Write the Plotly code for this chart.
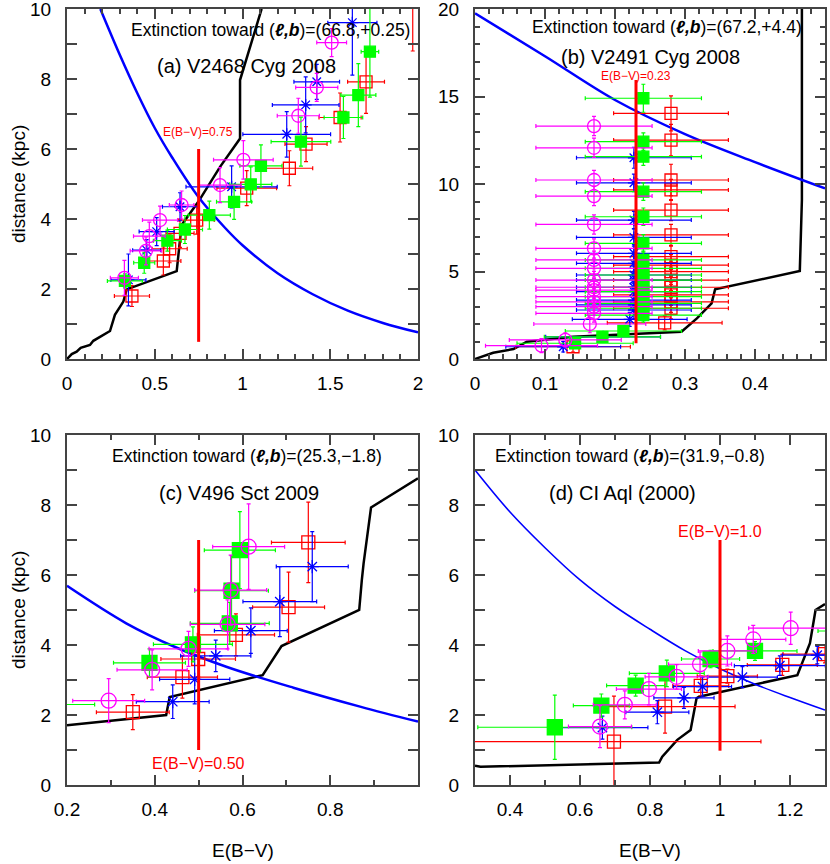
import plotly.graph_objects as go

# ---------------- panel (a) V2468 Cyg 2008 ----------------
a_ext_x = [0, 0.027, 0.055, 0.078, 0.131, 0.15, 0.245, 0.273, 0.321, 0.34, 0.625, 0.653, 0.748, 0.872, 0.986, 0.986, 1.109]
a_ext_y = [0, 0.14, 0.21, 0.32, 0.4, 0.52, 0.8, 1.26, 1.64, 1.99, 2.51, 3.83, 4.49, 5.49, 6.3, 7.97, 10.0]
a_dm_x = [0.19, 0.3, 0.4, 0.5, 0.6, 0.75, 0.9, 1.0, 1.2, 1.4, 1.6, 1.8, 2.0]
a_dm_y = [10.0, 8.7, 7.6, 6.6, 5.75, 4.62, 3.75, 3.25, 2.45, 1.85, 1.38, 1.03, 0.76]
a_ebv, a_ebv_y = 0.75, [0.49, 6.0]

a_mag_x = [1.508, 1.423, 1.318, 1.005, 0.872, 0.653, 0.53, 0.469, 0.45, 0.327]
a_mag_y = [9.04, 7.76, 6.95, 5.69, 4.97, 4.4, 3.97, 3.51, 3.09, 2.32]
a_mag_ex = [0.085, 0.12, 0.12, 0.17, 0.12, 0.07, 0.1, 0.09, 0.09, 0.08]
a_mag_ey = [0.4, 0.4, 0.5, 0.55, 0.5, 0.4, 0.4, 0.4, 0.4, 0.5]

a_grn_x = [1.726, 1.66, 1.575, 1.333, 1.105, 1.047, 0.952, 0.811, 0.672, 0.572, 0.44, 0.33]
a_grn_y = [8.78, 7.54, 6.9, 6.21, 5.52, 4.99, 4.49, 4.11, 3.7, 3.38, 2.75, 2.23]
a_grn_ex = [0.05, 0.1, 0.11, 0.17, 0.12, 0.12, 0.1, 0.12, 0.1, 0.08, 0.06, 0.1]
a_grn_ey = [1.3, 0.9, 0.6, 0.7, 0.6, 0.5, 0.5, 0.4, 0.4, 0.3, 0.3, 0.2]

a_red_x = [1.97, 1.704, 1.556, 1.362, 1.267, 1.024, 0.739, 0.644, 0.585, 0.549, 0.37]
a_red_y = [10.6, 7.92, 6.9, 6.14, 5.45, 4.88, 3.97, 3.59, 3.15, 2.8, 1.8]
a_red_ex = [0.06, 0.105, 0.12, 0.12, 0.133, 0.17, 0.1, 0.08, 0.1, 0.1, 0.1]
a_red_ey = [1.8, 0.9, 0.7, 0.5, 0.5, 0.5, 0.4, 0.4, 0.4, 0.4, 0.3]

a_blu_x = [1.626, 1.423, 1.36, 1.252, 0.938, 0.644, 0.511, 0.454, 0.35]
a_blu_y = [9.61, 7.92, 7.26, 6.42, 4.92, 4.35, 3.64, 3.11, 2.26]
a_blu_ex = [0.14, 0.13, 0.19, 0.25, 0.26, 0.1, 0.1, 0.08, 0.1]
a_blu_ey = [1.5, 0.5, 0.8, 0.65, 0.6, 0.4, 0.4, 0.3, 0.74]

# ---------------- panel (b) V2491 Cyg 2008 ----------------
b_ext_x = [0, 0.026, 0.055, 0.074, 0.14, 0.221, 0.295, 0.317, 0.338, 0.343, 0.464, 0.467, 0.467]
b_ext_y = [0, 0.36, 0.57, 0.99, 1.27, 1.41, 1.56, 2.32, 3.18, 3.98, 5.03, 9.09, 20.0]
b_dm_x = [0.0, 0.1, 0.2, 0.3, 0.4, 0.5]
b_dm_y = [19.75, 17.3, 14.8, 12.85, 11.25, 9.75]
b_ebv, b_ebv_y = 0.23, [0.9, 15.94]

b_mag_x = [0.17, 0.17, 0.17, 0.17, 0.17, 0.17, 0.17, 0.17, 0.17, 0.17, 0.17, 0.17, 0.17, 0.17, 0.17, 0.164, 0.129, 0.095]
b_mag_y = [13.31, 12.07, 10.23, 9.31, 7.69, 6.32, 5.66, 5.18, 4.51, 4.1, 3.94, 3.56, 3.27, 2.99, 2.61, 2.0, 1.09, 0.76]
b_mag_ex = [0.083, 0.083, 0.083, 0.083, 0.083, 0.083, 0.083, 0.083, 0.083, 0.083, 0.083, 0.083, 0.083, 0.083, 0.083, 0.08, 0.08, 0.08]
b_mag_ey = [0.55, 0.55, 0.55, 0.55, 0.55, 0.55, 0.5, 0.5, 0.5, 0.5, 0.5, 0.5, 0.5, 0.5, 0.5, 0.5, 0.4, 0.4]

b_grn_x = [0.2405, 0.2405, 0.2405, 0.2405, 0.2405, 0.2405, 0.2405, 0.2405, 0.2405, 0.2405, 0.2405, 0.2405, 0.2405, 0.2405, 0.2405, 0.2405, 0.212, 0.182, 0.143]
b_grn_y = [14.9, 12.42, 11.56, 9.56, 8.13, 6.61, 5.66, 5.18, 4.8, 4.51, 4.1, 3.85, 3.56, 3.18, 2.9, 2.51, 1.6, 1.27, 0.9]
b_grn_ex = [0.083, 0.083, 0.083, 0.083, 0.083, 0.083, 0.083, 0.083, 0.083, 0.083, 0.083, 0.083, 0.083, 0.083, 0.083, 0.083, 0.083, 0.083, 0.083]
b_grn_ey = [0.8, 0.5, 0.5, 0.5, 0.5, 0.5, 0.5, 0.5, 0.5, 0.5, 0.5, 0.5, 0.5, 0.5, 0.5, 0.4, 0.3, 0.3, 0.3]

b_blu_x = [0.227, 0.227, 0.227, 0.227, 0.227, 0.227, 0.227, 0.227, 0.227, 0.227, 0.227, 0.227, 0.227, 0.221, 0.183, 0.126]
b_blu_y = [11.5, 10.07, 7.94, 6.95, 6.04, 5.47, 4.8, 4.51, 4.1, 3.85, 3.37, 3.09, 2.8, 2.27, 1.27, 0.7]
b_blu_ex = [0.082, 0.082, 0.082, 0.082, 0.082, 0.082, 0.082, 0.082, 0.082, 0.082, 0.082, 0.082, 0.082, 0.082, 0.082, 0.082]
b_blu_ey = [0.6, 0.5, 0.5, 0.5, 0.5, 0.5, 0.5, 0.5, 0.5, 0.5, 0.5, 0.5, 0.5, 0.4, 0.3, 0.3]

b_red_x = [0.28, 0.28, 0.28, 0.28, 0.28, 0.28, 0.28, 0.28, 0.28, 0.28, 0.28, 0.28, 0.28, 0.28, 0.271, 0.14]
b_red_y = [14.04, 12.51, 10.23, 9.66, 8.51, 7.09, 5.85, 5.37, 4.99, 4.51, 4.1, 3.66, 3.27, 2.9, 2.07, 0.7]
b_red_ex = [0.082, 0.082, 0.082, 0.082, 0.082, 0.082, 0.082, 0.082, 0.082, 0.082, 0.082, 0.082, 0.082, 0.082, 0.082, 0.082]
b_red_ey = [1.0, 0.9, 0.9, 0.6, 0.6, 0.6, 0.6, 0.6, 0.6, 0.6, 0.6, 0.6, 0.6, 0.6, 0.4, 0.3]

# ---------------- panel (c) V496 Sct 2009 ----------------
c_ext_x = [0.2, 0.426, 0.434, 0.646, 0.689, 0.866, 0.872, 0.876, 0.893, 1.0]
c_ext_y = [1.71, 2.0, 2.51, 3.14, 3.97, 5.0, 5.86, 6.33, 7.93, 8.76]
c_dm_x = [0.2, 0.335, 0.445, 0.563, 0.716, 0.868, 1.0]
c_dm_y = [5.69, 4.62, 3.95, 3.38, 2.78, 2.24, 1.81]
c_ebv, c_ebv_y = 0.5, [1.0, 7.0]

c_mag_x = [0.614, 0.573, 0.566, 0.477, 0.394, 0.295]
c_mag_y = [6.81, 5.57, 4.59, 3.89, 3.29, 2.41]
c_mag_ex = [0.082, 0.082, 0.085, 0.09, 0.08, 0.082]
c_mag_ey = [1.22, 1.0, 0.7, 0.5, 0.57, 0.63]

c_grn_x = [0.594, 0.575, 0.571, 0.487, 0.388, 0.18]
c_grn_y = [6.71, 5.55, 4.62, 4.02, 3.49, 2.3]
c_grn_ex = [0.081, 0.084, 0.09, 0.09, 0.082, 0.083]
c_grn_ey = [1.1, 1.0, 0.6, 0.5, 0.4, 0.4]

c_blu_x = [0.759, 0.685, 0.619, 0.539, 0.491, 0.441]
c_blu_y = [6.24, 5.24, 4.41, 3.69, 3.02, 2.38]
c_blu_ex = [0.082, 0.084, 0.083, 0.08, 0.08, 0.083]
c_blu_ey = [1.0, 1.0, 0.65, 0.45, 0.7, 0.48]

c_red_x = [0.75, 0.705, 0.585, 0.499, 0.463, 0.35]
c_red_y = [6.93, 5.08, 4.29, 3.6, 3.08, 2.08]
c_red_ex = [0.084, 0.082, 0.088, 0.085, 0.08, 0.083]
c_red_ey = [1.15, 1.0, 0.6, 0.5, 0.6, 0.5]

# ---------------- panel (d) CI Aql (2000) ----------------
d_ext_x = [0.3, 0.316, 0.826, 0.835, 0.878, 0.916, 0.933, 0.94, 1.221, 1.257, 1.273, 1.3]
d_ext_y = [0.55, 0.52, 0.64, 0.81, 1.29, 1.57, 2.48, 2.52, 3.14, 4.05, 5.0, 5.17]
d_dm_x = [0.3, 0.4, 0.5, 0.6, 0.7, 0.8, 0.9, 1.0, 1.1, 1.2, 1.3]
d_dm_y = [9.0, 7.8, 6.78, 5.86, 5.1, 4.45, 3.84, 3.32, 2.88, 2.5, 2.14]
d_ebv, d_ebv_y = 1.0, [0.98, 7.0]

d_mag_x = [1.202, 1.095, 1.021, 0.943, 0.876, 0.797, 0.728, 0.657]
d_mag_y = [4.48, 4.16, 3.83, 3.45, 3.09, 2.74, 2.29, 1.67]
d_mag_ex = [0.12, 0.093, 0.083, 0.09, 0.09, 0.093, 0.09, 0.09]
d_mag_ey = [0.46, 0.4, 0.43, 0.35, 0.35, 0.45, 0.4, 0.6]

d_grn_x = [1.4, 1.1, 0.973, 0.848, 0.759, 0.661, 0.528]
d_grn_y = [4.4, 3.83, 3.6, 3.19, 2.84, 2.27, 1.65]
d_grn_ex = [0.12, 0.12, 0.083, 0.107, 0.083, 0.08, 0.22]
d_grn_ey = [0.3, 0.27, 0.25, 0.38, 0.3, 0.33, 0.92]

d_blu_x = [1.278, 1.171, 1.064, 0.95, 0.897, 0.821, 0.664]
d_blu_y = [3.71, 3.41, 3.08, 2.81, 2.49, 2.08, 1.64]
d_blu_ex = [0.1, 0.13, 0.1, 0.083, 0.086, 0.09, 0.13]
d_blu_ey = [0.25, 0.28, 0.3, 0.27, 0.3, 0.33, 0.33]

d_red_x = [1.3, 1.178, 1.021, 0.945, 0.843, 0.697]
d_red_y = [3.74, 3.43, 3.11, 2.83, 2.24, 1.24]
d_red_ex = [0.12, 0.1, 0.086, 0.08, 0.2, 0.42]
d_red_ey = [0.25, 0.3, 0.2, 0.28, 0.76, 1.3]

MAG, GRN, BLU, RED = "#ff00ff", "#00ff00", "#0000ff", "#ff0000"
FONT = "Liberation Sans"

fig = go.Figure()


def curve(ax, x, y, color, width, shape="linear"):
    fig.add_trace(go.Scatter(x=x, y=y, mode="lines", xaxis="x" + ax, yaxis="y" + ax,
                             line=dict(color=color, width=width, shape=shape),
                             showlegend=False, hoverinfo="skip"))


def points(ax, x, y, ex, ey, color, symbol, size):
    fig.add_trace(go.Scatter(
        x=x, y=y, mode="markers", xaxis="x" + ax, yaxis="y" + ax, showlegend=False,
        marker=dict(symbol=symbol, size=size, color=color, line=dict(color=color, width=1.3)),
        error_x=dict(type="data", array=ex, color=color, thickness=1.2, width=2),
        error_y=dict(type="data", array=ey, color=color, thickness=1.2, width=2)))


panels = [
    ("", a_ext_x, a_ext_y, a_dm_x, a_dm_y, a_ebv, a_ebv_y, 2.5,
     (a_red_x, a_red_y, a_red_ex, a_red_ey), (a_blu_x, a_blu_y, a_blu_ex, a_blu_ey),
     (a_grn_x, a_grn_y, a_grn_ex, a_grn_ey), (a_mag_x, a_mag_y, a_mag_ex, a_mag_ey), (12, 10, 11, 13)),
    ("2", b_ext_x, b_ext_y, b_dm_x, b_dm_y, b_ebv, b_ebv_y, 2.5,
     (b_red_x, b_red_y, b_red_ex, b_red_ey), (b_blu_x, b_blu_y, b_blu_ex, b_blu_ey),
     (b_grn_x, b_grn_y, b_grn_ex, b_grn_ey), (b_mag_x, b_mag_y, b_mag_ex, b_mag_ey), (12, 10, 11, 13)),
    ("3", c_ext_x, c_ext_y, c_dm_x, c_dm_y, c_ebv, c_ebv_y, 2.5,
     (c_red_x, c_red_y, c_red_ex, c_red_ey), (c_blu_x, c_blu_y, c_blu_ex, c_blu_ey),
     (c_grn_x, c_grn_y, c_grn_ex, c_grn_ey), (c_mag_x, c_mag_y, c_mag_ex, c_mag_ey), (13, 11, 15, 15)),
    ("4", d_ext_x, d_ext_y, d_dm_x, d_dm_y, d_ebv, d_ebv_y, 1.6,
     (d_red_x, d_red_y, d_red_ex, d_red_ey), (d_blu_x, d_blu_y, d_blu_ex, d_blu_ey),
     (d_grn_x, d_grn_y, d_grn_ex, d_grn_ey), (d_mag_x, d_mag_y, d_mag_ex, d_mag_ey), (13, 11, 15, 15)),
]

for ax, ex_x, ex_y, dm_x, dm_y, ebv, ebv_y, dmw, red, blu, grn, mag, sz in panels:
    curve(ax, ex_x, ex_y, "black", 2.5)
    curve(ax, dm_x, dm_y, BLU, dmw, "spline")
    points(ax, *red, RED, "square-open", sz[0])
    points(ax, *blu, BLU, "asterisk-open", sz[1])
    points(ax, *grn, GRN, "square", sz[2])
    points(ax, *mag, MAG, "circle-open", sz[3])
    curve(ax, [ebv, ebv], ebv_y, RED, 3)

W, H = 830, 864
dom_x = {"": (67, 418), "2": (475, 825), "3": (67, 418), "4": (475, 825)}
dom_y = {"": (9, 359), "2": (9, 359), "3": (435, 785), "4": (435, 785)}
xr = {"": [0, 2], "2": [0, 0.5], "3": [0.2, 1.0], "4": [0.3, 1.3]}
yr = {"": [0, 10], "2": [0, 20], "3": [0, 10], "4": [0, 10]}
xt = {"": ([0, 0.5, 1, 1.5, 2], ["0", "0.5", "1", "1.5", "2"], 0.1),
      "2": ([0, 0.1, 0.2, 0.3, 0.4], ["0", "0.1", "0.2", "0.3", "0.4"], 0.02),
      "3": ([0.2, 0.4, 0.6, 0.8], ["0.2", "0.4", "0.6", "0.8"], 0.1),
      "4": ([0.4, 0.6, 0.8, 1.0, 1.2], ["0.4", "0.6", "0.8", "1", "1.2"], 0.1)}
yt = {"": (2, 1, 10), "2": (5, 1, 5), "3": (2, 1, 10), "4": (2, 1, 10)}

tickfont = dict(family=FONT, size=19, color="black")
common = dict(showline=True, linecolor="#444", linewidth=2, mirror="allticks", ticks="inside",
              showgrid=False, zeroline=False, tickfont=tickfont, tickcolor="#444", tickwidth=1.5,
              automargin=False, ticklabeloverflow="allow")
layout = {}
for ax in ["", "2", "3", "4"]:
    x0, x1 = dom_x[ax]
    y0, y1 = dom_y[ax]
    tv, tt, mdt = xt[ax]
    ydt, ymdt, ymlen = yt[ax]
    layout["xaxis" + ax] = dict(common, domain=[x0 / W, x1 / W], range=xr[ax], anchor="y" + ax,
                                tickvals=tv, ticktext=tt, ticklen=10, ticklabelstandoff=6,
                                minor=dict(dtick=mdt, ticklen=5, ticks="inside", tickcolor="#444", showgrid=False))
    layout["yaxis" + ax] = dict(common, domain=[1 - y1 / H, 1 - y0 / H], range=yr[ax], anchor="x" + ax,
                                dtick=ydt, tick0=0, ticklen=10, ticklabelstandoff=10,
                                minor=dict(dtick=ymdt, ticklen=ymlen, ticks="inside", tickcolor="#444", showgrid=False))

ann = []


def text(ax, x, y, s, size, color="black"):
    ann.append(dict(xref="x" + ax, yref="y" + ax, x=x, y=y, text=s, showarrow=False,
                    font=dict(family=FONT, size=size, color=color), xanchor="center", yanchor="middle"))


lb = "(<b><i>ℓ,b</i></b>)"
text("", 1.16, 9.4, "Extinction toward " + lb + "=(66.8,+0.25)", 17.5)
text("", 1.024, 8.37, "(a) V2468 Cyg 2008", 20)
text("", 0.746, 6.49, "E(B−V)=0.75", 12, RED)
text("2", 0.274, 18.97, "Extinction toward " + lb + "=(67.2,+4.4)", 17.5)
text("2", 0.251, 17.26, "(b) V2491 Cyg 2008", 20)
text("2", 0.2296, 16.17, "E(B−V)=0.23", 12, RED)
text("3", 0.611, 9.4, "Extinction toward " + lb + "=(25.3,−1.8)", 17.5)
text("3", 0.592, 8.34, "(c) V496 Sct 2009", 20)
text("3", 0.5, 0.62, "E(B−V)=0.50", 16, RED)
text("4", 0.742, 9.4, "Extinction toward " + lb + "=(31.9,−0.8)", 17.5)
text("4", 0.721, 8.34, "(d) CI Aql (2000)", 20)
text("4", 1.0, 7.24, "E(B−V)=1.0", 16, RED)

for yc in (184, 610):
    ann.append(dict(xref="paper", yref="paper", x=18 / W, y=1 - yc / H, text="distance (kpc)",
                    textangle=-90, showarrow=False, xanchor="center", yanchor="middle",
                    font=dict(family=FONT, size=19, color="black")))
for xc in (243, 650):
    ann.append(dict(xref="paper", yref="paper", x=xc / W, y=1 - 850 / H, text="E(B−V)",
                    showarrow=False, xanchor="center", yanchor="middle",
                    font=dict(family=FONT, size=19, color="black")))

fig.update_layout(layout)
fig.update_layout(width=W, height=H, margin=dict(l=0, r=0, t=0, b=0, pad=0, autoexpand=False),
                  paper_bgcolor="white", plot_bgcolor="white", annotations=ann, showlegend=False)

# drop the page's default body margin so the figure sits at the window's corner
fig.write_html("out.html", config={"displayModeBar": False},
               post_script="document.body.style.margin='0';")
